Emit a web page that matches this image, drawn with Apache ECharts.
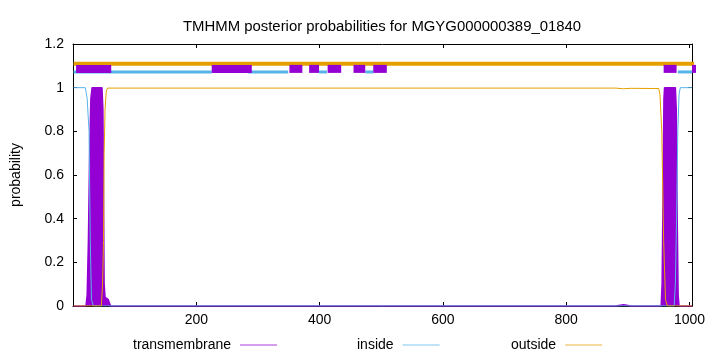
<!DOCTYPE html>
<html>
<head>
<meta charset="utf-8">
<script src="https://cdn.jsdelivr.net/npm/echarts@6/dist/echarts.min.js"></script>
<style>html,body{margin:0;padding:0;background:#fff}#c{width:720px;height:352px}</style>
</head>
<body>
<div id="c"></div>
<script>
// ---- data ----
const titleText = 'TMHMM posterior probabilities for MGYG000000389_01840';
const seriesNames = ['transmembrane', 'inside', 'outside'];
const xTickLabels = [200, 400, 600, 800, 1000];
const seqLength = 1004;

// transmembrane posterior probability
const tmX = [1, 21, 23, 25, 27, 29, 31, 47, 48.5, 49.5, 50.5, 52, 57, 61, 880, 893, 905, 954, 955.5, 957, 958.5, 959.5, 977, 978.5, 980, 981.5, 983, 1004];
const tmY = [0, 0, 0.05, 0.3, 0.7, 0.95, 1, 1, 0.9, 0.5, 0.1, 0.04, 0.03, 0, 0, 0.006, 0, 0, 0.1, 0.5, 0.95, 1, 1, 0.9, 0.4, 0.05, 0, 0];
// inside posterior probability
const inX = [1, 20, 23, 26, 28, 30, 33, 975, 977, 979, 981, 983, 985, 1004];
const inY = [1, 1, 0.95, 0.8, 0.3, 0.03, 0, 0, 0.1, 0.4, 0.8, 0.97, 1, 1];
// outside posterior probability
const outX = [1, 46, 48, 49.5, 50.5, 52, 54, 56, 880, 893, 905, 950, 952, 955, 958, 961, 964, 1004];
const outY = [0, 0, 0.1, 0.3, 0.7, 0.9, 0.985, 0.998, 0.998, 0.995, 0.997, 0.996, 0.97, 0.8, 0.3, 0.03, 0, 0];

// predicted topology bars drawn above the curves
const outsideLevel = 1.11, insideLevel = 1.072, tmLevel = 1.086;
const outsideSegs = [[1, 1050]];
const insideSegs = [[1, 225], [284, 349], [399, 412], [474, 487], [981, 1004], [1026, 1046]];
const tmSegs = [[5, 62], [225, 290], [351, 372], [383, 399], [413, 435], [455, 474], [487, 509], [958, 979], [1004, 1026]];

// ---- chart ----
const colors = { transmembrane: '#9400d3', inside: '#56b4e9', outside: '#e69f00' };
const font = "'Liberation Sans', Arial, sans-serif";
const pairs = (xs, ys) => xs.map((x, i) => [x, ys[i]]);

const series = [
  { name: 'transmembrane', type: 'line', data: pairs(tmX, tmY), showSymbol: false, symbol: 'none',
    lineStyle: { color: colors.transmembrane, width: 1.5 }, itemStyle: { color: colors.transmembrane },
    areaStyle: { color: colors.transmembrane, opacity: 1 }, z: 2 },
  { name: 'inside', type: 'line', data: pairs(inX, inY), showSymbol: false, symbol: 'none',
    lineStyle: { color: colors.inside, width: 1 }, itemStyle: { color: colors.inside }, z: 3 },
  { name: 'outside', type: 'line', data: pairs(outX, outY), showSymbol: false, symbol: 'none',
    lineStyle: { color: colors.outside, width: 1 }, itemStyle: { color: colors.outside }, z: 4 }
];
function segSeries(segs, level, color, width, z) {
  segs.forEach(s => series.push({
    type: 'line', data: [[s[0], level], [s[1], level]], showSymbol: false, symbol: 'none',
    clip: false, silent: true, lineStyle: { color: color, width: width, cap: 'butt' }, z: z
  }));
}
segSeries(outsideSegs, outsideLevel, colors.outside, 4, 5);
segSeries(insideSegs, insideLevel, colors.inside, 3, 6);
segSeries(tmSegs, tmLevel, colors.transmembrane, 8, 7);

const axisCommon = {
  axisLine: { show: true, onZero: false, lineStyle: { color: '#000', width: 1 } },
  axisTick: { show: true, inside: true, length: 4, lineStyle: { color: '#000' } },
  splitLine: { show: false }
};
const xBase = Object.assign({ type: 'value', min: 0, max: seqLength, interval: 200 }, axisCommon);
const yBase = Object.assign({ type: 'value', min: 0, max: 1.2, interval: 0.2 }, axisCommon);

const legendCommon = { orient: 'horizontal', align: 'right', icon: 'rect', itemWidth: 37, itemHeight: 1,
  textStyle: { fontSize: 14, color: '#000', fontFamily: font, padding: [0, 4, 0, 0] } };
const legendItem = n => ({ name: n, itemStyle: { color: colors[n], borderColor: colors[n], borderWidth: 0, opacity: 0.75 } });

const option = {
  animation: false,
  title: { text: titleText, left: 178, top: 14,
    textStyle: { fontSize: 14.9, fontWeight: 'normal', color: '#000', fontFamily: font } },
  grid: { left: 73, right: 28, top: 44, bottom: 46 },
  legend: [
    Object.assign({ data: [legendItem(seriesNames[0])], left: 128, top: 333 }, legendCommon),
    Object.assign({ data: [legendItem(seriesNames[1])], left: 352, top: 333 }, legendCommon),
    Object.assign({ data: [legendItem(seriesNames[2])], left: 506, top: 333 }, legendCommon)
  ],
  xAxis: [
    Object.assign({}, xBase, { position: 'bottom',
      axisLabel: { color: '#000', fontSize: 14, fontFamily: font, margin: 7,
        formatter: v => xTickLabels.indexOf(v) >= 0 ? String(v) : '' } }),
    Object.assign({}, xBase, { position: 'top', axisLabel: { show: false } })
  ],
  yAxis: [
    Object.assign({}, yBase, { position: 'left', name: 'probability', nameLocation: 'middle', nameGap: 50,
      nameRotate: 90, nameTextStyle: { fontSize: 14, color: '#000', fontFamily: font },
      axisLabel: { color: '#000', fontSize: 14, fontFamily: font, margin: 9 } }),
    Object.assign({}, yBase, { position: 'right', axisLabel: { show: false } })
  ],
  series: series
};
const chart = echarts.init(document.getElementById('c'), null, { renderer: 'canvas' });
chart.setOption(option);
</script>
</body>
</html>
